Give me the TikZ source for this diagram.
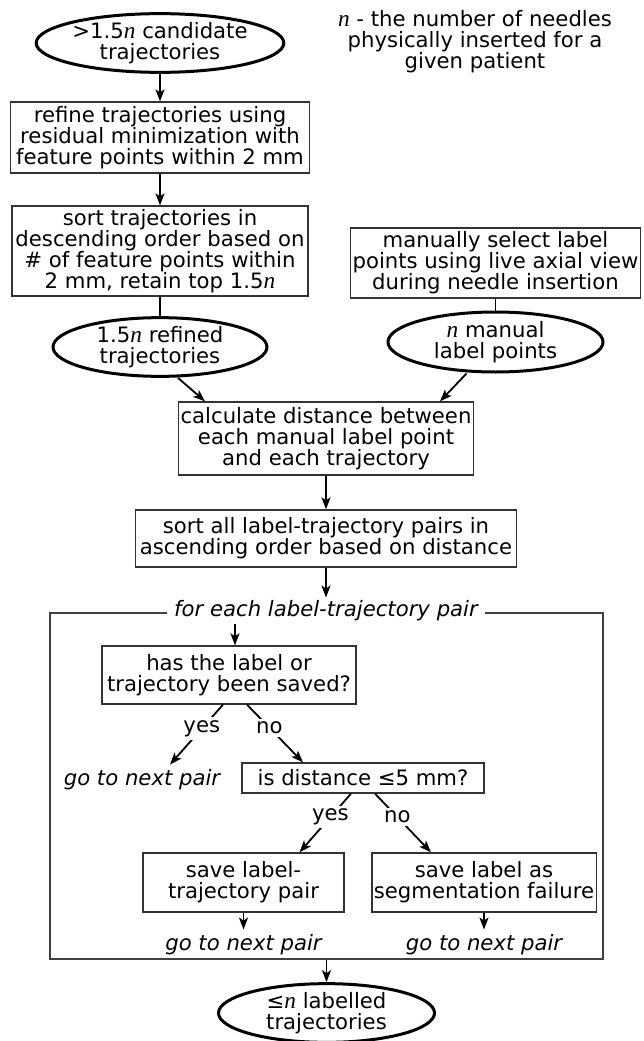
\documentclass[tikz,border=0pt]{standalone}
\usepackage{fontspec}
\setmainfont{DejaVu Sans}
\newfontfamily\nfont{Liberation Serif}[Scale=1.1]
\usetikzlibrary{shapes.geometric,arrows.meta}
\newcommand{\nn}{{\nfont\itshape n}}

\begin{document}
\begin{tikzpicture}[x=1pt, y=-1pt,
    font=\fontsize{21.2}{21}\selectfont,
    box/.style={draw=black!80, line width=1.3pt, inner sep=2pt, align=center},
    blob/.style={ellipse, draw=black, line width=3pt, inner sep=0pt, align=center,
                 minimum width=215pt, minimum height=57pt},
    arr/.style={-{Stealth[length=12pt,width=9pt,inset=3pt]}, line width=1.8pt},
    lbl/.style={fill=white, inner sep=3pt},
    goto/.style={font=\fontsize{21.2}{21}\selectfont\itshape, inner sep=5pt}]
  \useasboundingbox (0,0) rectangle (643,1041);
  % inputs
  \node[blob] (cand) at (160,43) {>1.5\nn{} candidate\\trajectories};
  \node[align=center] (note) at (475,42) {\nn{} - the number of needles\\physically inserted for a\\given patient};
  \node[box, minimum width=299pt, minimum height=71pt] (refine) at (160,137.5)
    {refine trajectories using\\residual minimization with\\feature points within 2 mm};
  \node[box, minimum width=296pt, minimum height=90pt] (sort) at (160,251)
    {sort trajectories in\\descending order based on\\\# of feature points within\\2 mm, retain top 1.5\nn};
  \node[blob, minimum width=214pt] (refined) at (160,347) {1.5\nn{} refined\\trajectories};
  \node[box, minimum width=289pt, minimum height=70pt] (manual) at (495.5,263)
    {manually select label\\points using live axial view\\during needle insertion};
  \node[blob, minimum height=60pt] (mlabel) at (495.5,342) {\nn{} manual\\label points};
  % matching
  \node[box, minimum width=292pt, minimum height=73pt] (calc) at (326,438.5)
    {calculate distance between\\each manual label point\\and each trajectory};
  \node[box, minimum width=381pt, minimum height=57pt] (sortall) at (326,538.5)
    {sort all label-trajectory pairs in\\ascending order based on distance};
  % loop
  \node[draw=black!75, line width=1.5pt, minimum width=553pt, minimum height=346pt,
        inner sep=0pt] (loop) at (326.5,786) {};
  \node[lbl, font=\fontsize{21.2}{21}\selectfont\itshape, inner xsep=7pt] (each) at (326,611)
    {for each label-trajectory pair};
  \node[box, minimum width=254pt, minimum height=58pt] (saved) at (229,675)
    {has the label or\\trajectory been saved?};
  \node[goto] (goto1) at (142,780) {go to next pair};
  \node[box, minimum width=242pt, minimum height=30pt] (dist) at (363,778) {is distance ≤5 mm?};
  \node[box, minimum width=201pt, minimum height=59pt] (save1) at (243.5,882.5)
    {save label-\\trajectory pair};
  \node[box, minimum width=224pt, minimum height=59pt] (save2) at (484,882.5)
    {save label as\\segmentation failure};
  \node[goto] (goto2) at (243.5,945) {go to next pair};
  \node[goto] (goto3) at (484,945) {go to next pair};
  % output
  \node[blob, minimum width=216pt, minimum height=55pt] (final) at (326.5,1013)
    {≤\nn{} labelled\\trajectories};
  % connectors
  \draw[arr] (cand) -- (refine);
  \draw[arr] (refine) -- (sort);
  \draw[line width=1.8pt] (sort) -- (refined);
  \draw[line width=1.8pt] (manual) -- (mlabel);
  \draw[arr] ([xshift=18pt]refined.south) -- ([xshift=-121pt]calc.north);
  \draw[arr] ([xshift=-29pt]mlabel.south) -- ([xshift=114pt]calc.north);
  \draw[arr] (calc) -- (sortall);
  \draw[arr] (sortall) -- (each);
  \draw[arr] ([xshift=6pt]saved.north |- each.south) -- ([xshift=6pt]saved.north);
  \draw[arr] ([xshift=-6pt]saved.south) -- node[lbl, pos=0.4] {yes} ([xshift=28pt]goto1.north);
  \draw[arr] ([xshift=18pt]saved.south) -- node[lbl, pos=0.4] {no} ([xshift=-60pt]dist.north);
  \draw[arr] ([xshift=-12pt]dist.south) -- node[lbl, pos=0.4] {yes} ([xshift=56pt]save1.north);
  \draw[arr] ([xshift=12pt]dist.south) -- node[lbl, pos=0.4] {no} ([xshift=-53pt]save2.north);
  \draw[arr] (save1) -- (goto2);
  \draw[arr] (save2) -- (goto3);
  \draw[arr] (loop.south) -- (final);
\end{tikzpicture}
\end{document}
